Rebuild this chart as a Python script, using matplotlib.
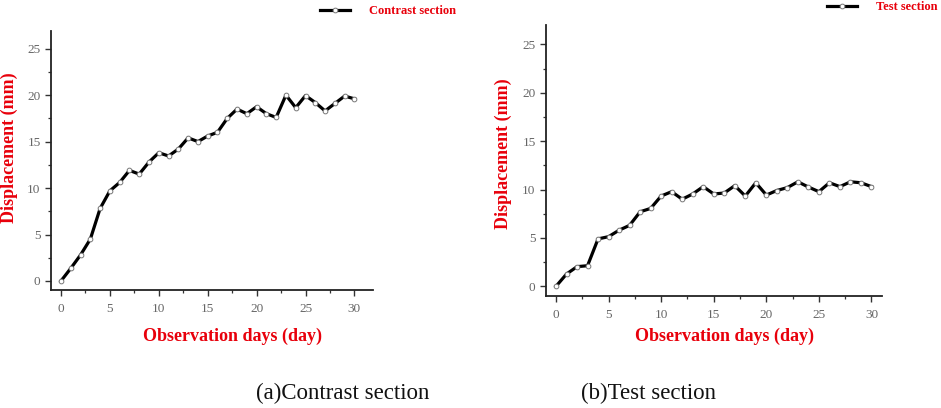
import matplotlib
matplotlib.use("Agg")
import matplotlib.pyplot as plt
from matplotlib.ticker import MultipleLocator

days = list(range(31))
contrast = [0, 1.36, 2.8, 4.5, 7.8, 9.7, 10.6, 11.9, 11.5, 12.8, 13.8, 13.45, 14.2, 15.4, 15.0,
            15.6, 16.0, 17.5, 18.5, 18.0, 18.75, 18.0, 17.6, 20.0, 18.65, 19.95, 19.2, 18.3,
            19.1, 19.9, 19.6]
test = [0, 1.27, 2.03, 2.13, 4.9, 5.13, 5.8, 6.3, 7.7, 8.05, 9.33, 9.78, 9.0, 9.54, 10.3,
        9.54, 9.64, 10.4, 9.33, 10.7, 9.43, 9.9, 10.2, 10.8, 10.26, 9.78, 10.7, 10.3, 10.8,
        10.7, 10.3]
xticks = [0, 5, 10, 15, 20, 25, 30]
yticks = [0, 5, 10, 15, 20, 25]
legend_labels = ["Contrast section", "Test section"]
captions = ["(a)Contrast section", "(b)Test section"]
xlabel = "Observation days (day)"
ylabel = "Displacement (mm)"

W, H = 941, 408
fig = plt.figure(figsize=(W / 100, H / 100), dpi=100)
serif = ["Liberation Serif", "DejaVu Serif"]

def px_axes(x0, y0, x1, y1):
    return fig.add_axes([x0 / W, 1 - y1 / H, (x1 - x0) / W, (y1 - y0) / H])

specs = [
    dict(box=(51, 31, 373, 290), xlim=(-1.02, 31.9), ylim=(-0.97, 26.9), data=contrast,
         ylab=(-0.104, 0.548), xlab=(0.565, -0.147), leg=(320, 11)),
    dict(box=(546, 25, 882, 296), xlim=(-0.95, 31.0), ylim=(-1.0, 27.0), data=test,
         ylab=(-0.101, 0.526), xlab=(0.53, -0.118), leg=(827, 7)),
]

for i, s in enumerate(specs):
    ax = px_axes(*s["box"])
    ax.plot(days, s["data"], color="black", lw=2.3, marker="o", ms=3.4,
            mfc="white", mec="#777777", mew=0.7, label=legend_labels[i])
    ax.set_xlim(*s["xlim"])
    ax.set_ylim(*s["ylim"])
    ax.set_xticks(xticks)
    ax.set_yticks(yticks)
    ax.xaxis.set_minor_locator(MultipleLocator(2.5))
    ax.yaxis.set_minor_locator(MultipleLocator(2.5))
    for sp in ["top", "right"]:
        ax.spines[sp].set_visible(False)
    for sp in ["left", "bottom"]:
        ax.spines[sp].set_linewidth(1.3)
        ax.spines[sp].set_color("#222222")
    ax.tick_params(which="major", direction="out", length=4, width=1.0, color="#333333",
                   labelsize=9.5, labelcolor="#666666")
    ax.tick_params(axis="x", which="major", pad=5)
    ax.tick_params(axis="y", which="major", pad=3.5)
    ax.tick_params(which="minor", direction="out", length=2.5, width=0.9, color="#333333")
    for lab in ax.get_xticklabels() + ax.get_yticklabels():
        lab.set_family(serif)
    ax.set_ylabel(ylabel, family=serif, fontsize=13, fontweight="bold", color="#e8000b")
    ax.yaxis.set_label_coords(*s["ylab"])
    ax.set_xlabel(xlabel, family=serif, fontsize=13, fontweight="bold", color="#e8000b")
    ax.xaxis.set_label_coords(*s["xlab"])
    lx, ly = s["leg"]
    leg = fig.legend(handles=ax.get_lines(), labels=[legend_labels[i]],
                     loc="center left", bbox_to_anchor=(lx / W, 1 - ly / H),
                     frameon=False, handlelength=2.4, handletextpad=1.5,
                     borderpad=0, borderaxespad=0,
                     prop={"family": serif, "size": 9, "weight": "bold"})
    for t in leg.get_texts():
        t.set_color("#e8000b")

fig.text(342.5 / W, 1 - 393 / H, captions[0], ha="center", va="center",
         family=serif, fontsize=16.5, color="#111111")
fig.text(648.5 / W, 1 - 393 / H, captions[1], ha="center", va="center",
         family=serif, fontsize=16.5, color="#111111")

fig.savefig("out.png", dpi=100, facecolor="white")
